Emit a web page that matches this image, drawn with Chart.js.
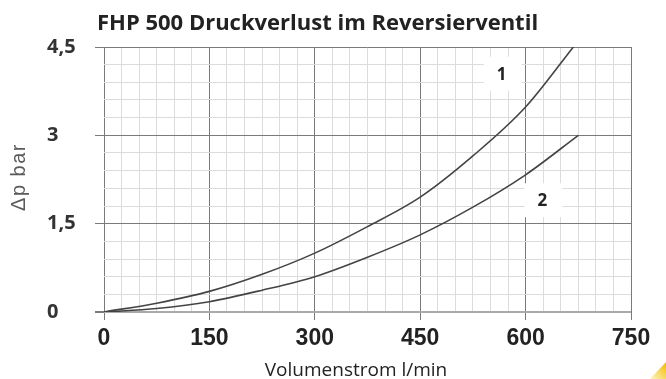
<!DOCTYPE html>
<html>
<head>
<meta charset="utf-8">
<script src="https://cdn.jsdelivr.net/npm/chart.js@4"></script>
<style>
  html, body { margin: 0; padding: 0; background: #fff; }
  #wrap { width: 666px; height: 379px; position: relative; }
</style>
</head>
<body>
<div id="wrap"><canvas id="chart"></canvas></div>
<script>
// pressure loss curves, flow in l/min, pressure in bar
const flowCurve1 = [0, 75, 150, 225, 300, 375, 450, 525, 600, 668];
const dropCurve1 = [0, 0.15, 0.35, 0.64, 1.0, 1.45, 1.95, 2.65, 3.48, 4.5];
const flowCurve2 = [0, 75, 150, 225, 300, 375, 450, 525, 600, 675];
const dropCurve2 = [0, 0.06, 0.175, 0.37, 0.6, 0.93, 1.31, 1.78, 2.33, 3.0];
const xTickLabels = ['0', '150', '300', '450', '600', '750'];
const yTickLabels = ['0', '1,5', '3', '4,5'];
const curveNames = ['1', '2'];
const curveNameX = [566, 624];
const curveNameY = [4.03, 1.88];

const toPoints = (xs, ys) => xs.map((x, i) => ({ x: x, y: ys[i] }));
const isMajor = (v, step) => Math.abs(v / step - Math.round(v / step)) < 1e-6;

// title, axis titles, curve numbers and the small corner mark
const decorations = {
    id: 'decorations',
    beforeDatasetsDraw(chart) {
        const ctx = chart.ctx;
        const xs = chart.scales.x, ys = chart.scales.y;
        ctx.save();
        ctx.font = 'bold 17px "Open Sans"';
        ctx.textAlign = 'center';
        ctx.textBaseline = 'middle';
        curveNames.forEach((name, i) => {
            const px = xs.getPixelForValue(curveNameX[i]);
            const py = ys.getPixelForValue(curveNameY[i]);
            ctx.fillStyle = '#fff';
            ctx.fillRect(px - 18, py - 18, 38, 34);
            ctx.fillStyle = '#222';
            ctx.fillText(name, px, py);
        });
        ctx.restore();
    },
    afterDraw(chart) {
        const ctx = chart.ctx;
        ctx.save();
        ctx.fillStyle = '#222';
        ctx.font = 'bold 22px "Open Sans"';
        ctx.textAlign = 'left';
        ctx.textBaseline = 'alphabetic';
        ctx.fillText('FHP 500 Druckverlust im Reversierventil', 97, 30);

        ctx.font = '19px "Open Sans"';
        ctx.textAlign = 'center';
        ctx.fillText('Volumenstrom l/min', 356, 376);

        ctx.translate(25, 177);
        ctx.rotate(-Math.PI / 2);
        ctx.fillStyle = '#5a5a5a';
        ctx.font = '20px "Liberation Sans"';
        ctx.letterSpacing = '1.5px';
        ctx.fillText('\u0394p bar', 0, 0);
        ctx.restore();

        ctx.save();
        const g = ctx.createLinearGradient(650, 379, 666, 362);
        g.addColorStop(0, '#fff6c0');
        g.addColorStop(1, '#f2b900');
        ctx.fillStyle = g;
        ctx.beginPath();
        ctx.moveTo(650, 379);
        ctx.lineTo(666, 362);
        ctx.lineTo(666, 379);
        ctx.closePath();
        ctx.fill();
        ctx.restore();
    }
};

const lineStyle = {
    borderColor: '#444',
    borderWidth: 1.6,
    pointRadius: 0,
    fill: false,
    cubicInterpolationMode: 'monotone'
};

new Chart(document.getElementById('chart'), {
    type: 'line',
    data: {
        datasets: [
            Object.assign({ label: curveNames[0], data: toPoints(flowCurve1, dropCurve1) }, lineStyle),
            Object.assign({ label: curveNames[1], data: toPoints(flowCurve2, dropCurve2) }, lineStyle)
        ]
    },
    options: {
        responsive: true,
        maintainAspectRatio: false,
        animation: false,
        layout: { padding: { left: 47, right: 35, top: 47, bottom: 0 } },
        plugins: {
            legend: { display: false },
            tooltip: { enabled: false }
        },
        scales: {
            x: {
                type: 'linear',
                min: 0,
                max: 750,
                afterFit: (s) => { s.height = 67; },
                border: { display: false },
                grid: {
                    color: (c) => isMajor(c.tick.value, 150) ? '#7a7a7a' : '#dcdcdc',
                    tickColor: (c) => isMajor(c.tick.value, 150) ? '#7a7a7a' : 'rgba(0,0,0,0)',
                    tickLength: 8,
                    lineWidth: 1
                },
                ticks: {
                    stepSize: 25,
                    autoSkip: false,
                    maxRotation: 0,
                    padding: 5,
                    color: '#222',
                    font: { family: '"Liberation Sans"', size: 23, weight: 'bold' },
                    callback: (v) => isMajor(v, 150) ? xTickLabels[Math.round(v / 150)] : ''
                }
            },
            y: {
                min: 0,
                max: 4.5,
                afterFit: (s) => { s.width = 57; },
                border: { display: false },
                grid: {
                    color: (c) => c.tick.value === 0 ? '#aaaaaa' : (isMajor(c.tick.value, 1.5) ? '#7a7a7a' : '#dcdcdc'),
                    lineWidth: (c) => c.tick.value === 0 ? 2 : 1,
                    tickColor: (c) => isMajor(c.tick.value, 1.5) ? '#7a7a7a' : 'rgba(0,0,0,0)',
                    tickLength: 9
                },
                ticks: {
                    stepSize: 0.3,
                    autoSkip: false,
                    crossAlign: 'far',
                    color: '#333',
                    font: { family: '"Open Sans"', size: 20, weight: 'bold' },
                    callback: (v) => isMajor(v, 1.5) ? yTickLabels[Math.round(v / 1.5)] : ''
                }
            }
        }
    },
    plugins: [decorations]
});
</script>
</body>
</html>
